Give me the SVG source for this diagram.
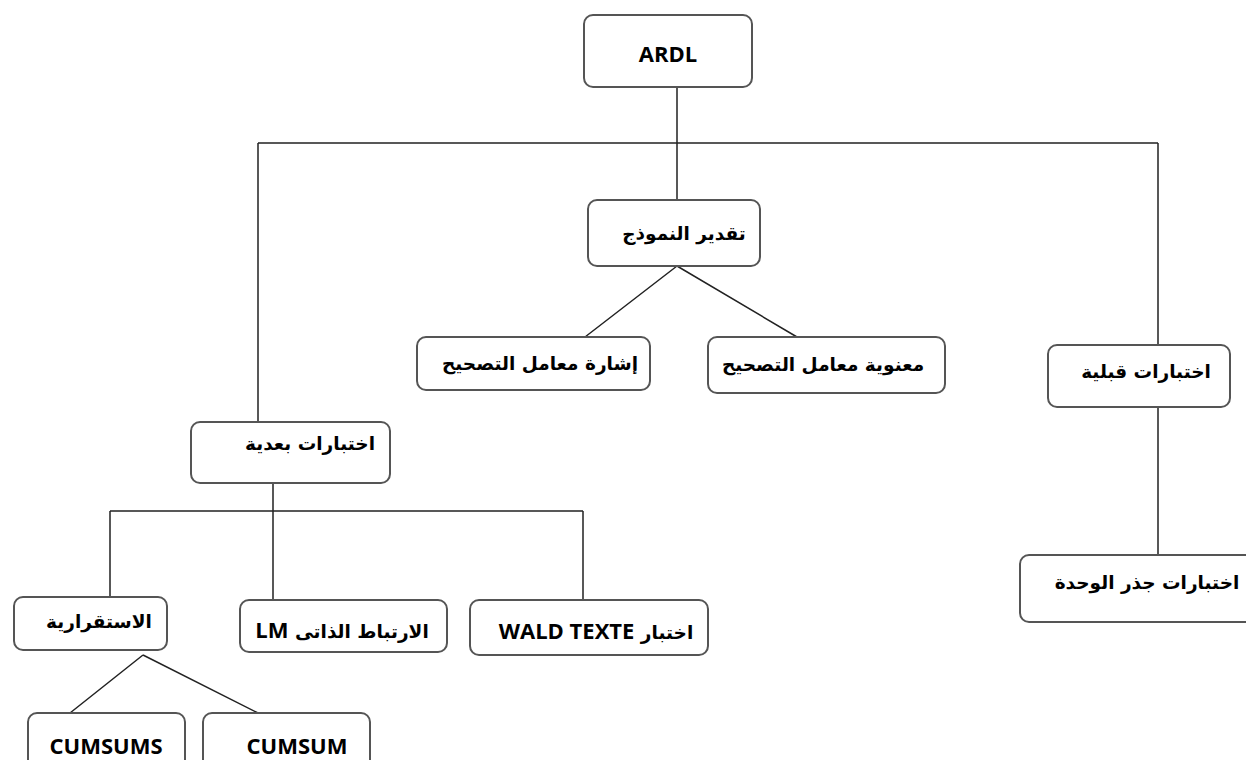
<svg xmlns="http://www.w3.org/2000/svg" width="1246" height="760" viewBox="0 0 1246 760">
<style>
.box{fill:#fff;stroke:#555;stroke-width:2}
.ln{stroke:#222;stroke-width:1.5;fill:none}
.ar{font-family:"DejaVu Sans",sans-serif;font-weight:bold;font-size:18.5px;fill:#000}
.lt{font-family:"Open Sans","Liberation Sans",sans-serif;font-weight:bold;font-size:22px;fill:#000}
</style>
<rect width="1246" height="760" fill="#fff"/>
<g id="connectors">
<path class="ln" d="M677,87 V200 M258,143 H1158 M258,143 V422 M1158,143 V345 M1158,407 V555"/>
<path class="ln" d="M677,266 L585,337 M677,266 L797,337"/>
<path class="ln" d="M273,483 V511 M110,511 H583 M110,511 V597 M273,511 V600 M583,511 V600"/>
<path class="ln" d="M143,655 L70,713 M143,655 L258,713"/>
</g>
<g id="n-ardl"><rect class="box" x="584" y="15" width="168" height="72" rx="9"/><text class="lt" x="668" y="62" text-anchor="middle" font-size="28">ARDL</text></g>
<g id="n-model"><rect class="box" x="588" y="200" width="172" height="66" rx="9"/><text class="ar" x="684" y="240" text-anchor="middle" direction="rtl">تقدير النموذج</text></g>
<g id="n-sign"><rect class="box" x="417" y="337" width="233" height="53" rx="9"/><text class="ar" x="540" y="370" text-anchor="middle" direction="rtl">إشارة معامل التصحيح</text></g>
<g id="n-signif"><rect class="box" x="708" y="337" width="237" height="56" rx="9"/><text class="ar" x="823" y="371" text-anchor="middle" direction="rtl">معنوية معامل التصحيح</text></g>
<g id="n-pre"><rect class="box" x="1048" y="345" width="182" height="62" rx="9"/><text class="ar" x="1146" y="378" text-anchor="middle" direction="rtl">اختبارات قبلية</text></g>
<g id="n-post"><rect class="box" x="191" y="422" width="199" height="61" rx="9"/><text class="ar" x="310" y="450" text-anchor="middle" direction="rtl">اختبارات بعدية</text></g>
<g id="n-unit"><rect class="box" x="1020" y="555" width="240" height="67" rx="9"/><text class="ar" x="1147" y="589" text-anchor="middle" direction="rtl">اختبارات جذر الوحدة</text></g>
<g id="n-stab"><rect class="box" x="14" y="597" width="153" height="53" rx="9"/><text class="ar" x="99" y="628" text-anchor="middle" direction="rtl">الاستقرارية</text></g>
<g id="n-lm"><rect class="box" x="240" y="600" width="207" height="52" rx="9"/><text class="ar" x="342" y="638" text-anchor="middle" direction="rtl">الارتباط الذاتى  <tspan class="lt" font-size="21">LM</tspan></text></g>
<g id="n-wald"><rect class="box" x="470" y="600" width="238" height="55" rx="9"/><text class="ar" x="596" y="639" text-anchor="middle" direction="rtl">اختبار <tspan class="lt" font-size="21">WALD TEXTE</tspan></text></g>
<g id="n-cumsums"><rect class="box" x="28" y="713" width="157" height="60" rx="9"/><text class="lt" x="106" y="754" text-anchor="middle">CUMSUMS</text></g>
<g id="n-cumsum"><rect class="box" x="203" y="713" width="167" height="60" rx="9"/><text class="lt" x="297" y="754" text-anchor="middle">CUMSUM</text></g>
</svg>
